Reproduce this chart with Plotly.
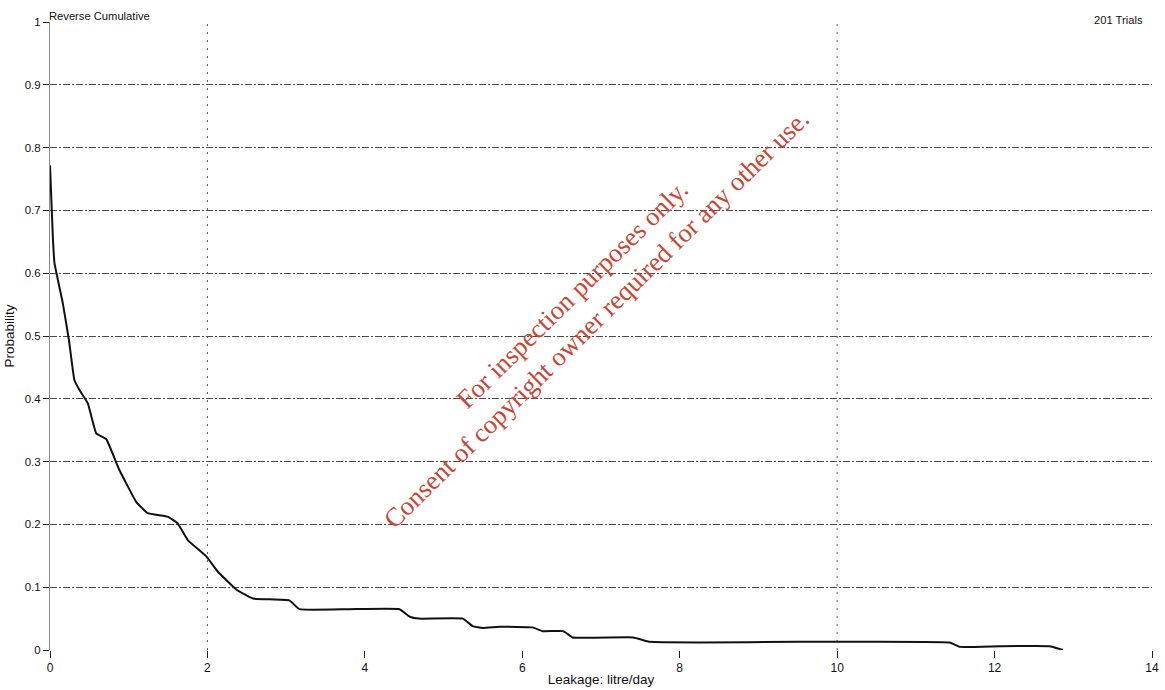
import plotly.graph_objects as go

# Reverse cumulative probability of leakage (201 trials)
leakage = [0.0, 0.036, 0.057, 0.163, 0.24, 0.31, 0.375, 0.48, 0.587, 0.714, 0.88,
           1.095, 1.24, 1.50, 1.62, 1.75, 1.985, 2.13, 2.37, 2.58, 3.04, 3.17,
           3.8, 4.44, 4.57, 4.69, 5.245, 5.37, 5.50, 5.71, 6.13, 6.26, 6.52,
           6.64, 7.41, 7.62, 8.25, 9.5, 11.43, 11.56, 12.07, 12.70, 12.87]
probability = [0.772, 0.658, 0.616, 0.552, 0.494, 0.430, 0.414, 0.393, 0.345, 0.336, 0.287,
               0.236, 0.218, 0.212, 0.202, 0.175, 0.149, 0.125, 0.096, 0.082, 0.079, 0.065,
               0.065, 0.065, 0.053, 0.050, 0.050, 0.038, 0.035, 0.037, 0.036, 0.030, 0.030,
               0.020, 0.020, 0.013, 0.012, 0.013, 0.012, 0.005, 0.006, 0.006, 0.0]

x_ticks = [0, 2, 4, 6, 8, 10, 12, 14]
y_ticks = [0, 0.1, 0.2, 0.3, 0.4, 0.5, 0.6, 0.7, 0.8, 0.9, 1]
y_tick_labels = ["0", "0.1", "0.2", "0.3", "0.4", "0.5", "0.6", "0.7", "0.8", "0.9", "1"]
vgrid_x = [2, 10]

font_family = "Liberation Sans, Arial, sans-serif"

fig = go.Figure()
fig.add_trace(go.Scatter(
    x=leakage, y=probability, mode="lines",
    line=dict(color="#111111", width=2, shape="spline", smoothing=0.3),
    hoverinfo="x+y", showlegend=False,
))

for xv in vgrid_x:
    fig.add_vline(x=xv, line=dict(color="#555555", width=1, dash="2px,6px"), layer="below")

fig.update_layout(
    width=1165, height=690,
    margin=dict(l=50, r=13, t=22, b=40, autoexpand=False),
    paper_bgcolor="white", plot_bgcolor="white",
    font=dict(family=font_family, size=11, color="#111111"),
    xaxis=dict(
        range=[0, 14], tickvals=x_ticks, ticks="outside", ticklen=7,
        tickcolor="#222222", showgrid=False, zeroline=False, showline=False,
        automargin=False,
        title=dict(text="Leakage: litre/day", standoff=0, font=dict(size=13.5)),
        tickfont=dict(size=12),
    ),
    yaxis=dict(
        range=[0, 1], tickvals=y_ticks, ticktext=y_tick_labels, ticks="outside",
        ticklen=6, tickcolor="#222222", showgrid=True, gridcolor="#4a4a4a",
        gridwidth=1, griddash="7px,2px,2px,2px", zeroline=False,
        showline=True, linecolor="#888888", linewidth=1, automargin=False,
        title=dict(text="Probability", standoff=6, font=dict(size=13.5)),
        tickfont=dict(size=11.5),
    ),
)

fig.add_annotation(text="Reverse Cumulative", xref="paper", yref="paper",
                   x=-0.003, y=1.0, xanchor="left", yanchor="bottom", yshift=-2,
                   showarrow=False, font=dict(size=11.2))
fig.add_annotation(text="201 Trials", xref="paper", yref="paper",
                   x=0.9935, y=1.0, xanchor="right", yanchor="bottom", yshift=-6,
                   showarrow=False, font=dict(size=11.2))

fig.add_annotation(
    text="For inspection purposes only.<br>Consent of copyright owner required for any other use.",
    xref="paper", yref="paper", x=0.485, y=0.548, showarrow=False,
    textangle=-44.5, align="center",
    font=dict(family="Liberation Serif, Times New Roman, serif", size=26.5, color="#cc4433"),
)

fig.write_html("out.html")
